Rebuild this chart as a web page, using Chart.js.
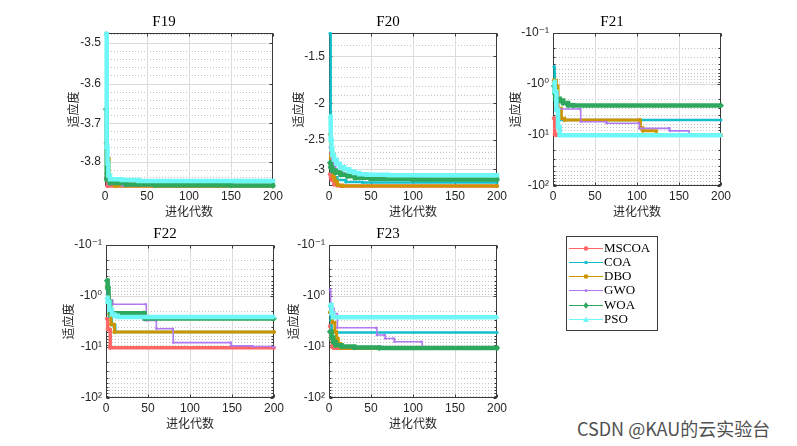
<!DOCTYPE html>
<html><head><meta charset="utf-8">
<script src="https://cdn.jsdelivr.net/npm/chart.js@4.4.0/dist/chart.umd.min.js"></script>
<style>
html,body{margin:0;padding:0;background:#fff;width:797px;height:446px;overflow:hidden;position:relative}
canvas.pc{position:absolute}
#legend{position:absolute;left:566px;top:236px;width:92px;height:95px;border:1px solid #3a3a3a;box-sizing:border-box;background:#fff}
#legend span{position:absolute;left:37px;font:13px "Liberation Serif",serif;color:#000;line-height:14px;white-space:nowrap}
#legcv{position:absolute;left:0;top:0}
#wm{position:absolute;left:577px;top:416px;font:18px "Noto Sans CJK SC",sans-serif;color:#505050;white-space:nowrap;line-height:24px}
</style></head><body>
<div id="legend"><canvas id="legcv" width="90" height="93"></canvas></div>
<div id="wm">CSDN @KAU的云实验台</div>
<script>
// ---------- categories / labels ----------
const seriesNames = ['MSCOA','COA','DBO','GWO','WOA','PSO'];
const panelTitles = ['F19','F20','F21','F22','F23'];
const xLabel = '进化代数';
const yLabel = '适应度';
const xTicks = [0,50,100,150,200];
const yTicksF19 = [-3.5,-3.6,-3.7,-3.8];
const yTicksF20 = [-1.5,-2,-2.5,-3];
const yTicksLog = [-0.1,-1,-10,-100];
const yRangeF19 = [-3.477,-3.863];
const yRangeF20 = [-1.304,-3.3224];
const yRangeLog = [-0.1,-100];

// ---------- series values: [iteration, best fitness] at the points where the curve changes ----------
const f19_MSCOA = [[1,-3.842],[3,-3.8628],[200,-3.8628]];
const f19_COA   = [[1,-3.477],[2,-3.83],[4,-3.855],[12,-3.862],[200,-3.8628]];
const f19_DBO   = [[1,-3.751],[3,-3.79],[5,-3.855],[12,-3.8628],[200,-3.8628]];
const f19_GWO   = [[1,-3.83],[4,-3.858],[20,-3.862],[200,-3.8628]];
const f19_WOA   = [[1,-3.664],[2,-3.845],[6,-3.855],[25,-3.859],[60,-3.861],[150,-3.862],[200,-3.8628]];
const f19_PSO   = [[1,-3.48],[2,-3.76],[3,-3.803],[4,-3.835],[6,-3.845],[20,-3.847],[40,-3.85],[200,-3.851]];

const f20_MSCOA = [[1,-3.09],[2,-3.15],[3,-3.2],[6,-3.29],[10,-3.31],[14,-3.3224],[200,-3.3224]];
const f20_COA   = [[1,-1.304],[2,-2.9],[3,-3.05],[6,-3.15],[10,-3.2],[20,-3.24],[40,-3.25],[200,-3.25]];
const f20_DBO   = [[1,-2.42],[2,-2.8],[3,-3.0],[5,-3.15],[7,-3.22],[10,-3.3],[16,-3.3224],[200,-3.3224]];
const f20_GWO   = [[1,-2.62],[2,-2.72],[3,-2.85],[5,-2.95],[8,-3.02],[12,-3.06],[18,-3.1],[30,-3.14],[60,-3.17],[120,-3.19],[200,-3.2]];
const f20_WOA   = [[1,-2.88],[2,-2.96],[4,-3.02],[8,-3.06],[14,-3.1],[22,-3.13],[31,-3.16],[50,-3.18],[100,-3.195],[200,-3.2032]];
const f20_PSO   = [[1,-2.17],[2,-2.5],[3,-2.65],[4,-2.75],[6,-2.83],[9,-2.9],[13,-2.96],[18,-3.0],[24,-3.04],[30,-3.07],[36,-3.09],[45,-3.1],[70,-3.11],[200,-3.12]];

const f21_MSCOA = [[1,-4.7],[2,-9.8],[4,-10.153],[200,-10.153]];
const f21_COA   = [[1,-0.46],[2,-0.9],[3,-1.7],[5,-3.5],[7,-5.0552],[200,-5.0552]];
const f21_DBO   = [[1,-0.84],[4,-1.1],[6,-3.0],[10,-4.7],[14,-5.0552],[103,-5.0552],[104,-7.2],[107,-8.3],[123,-10.153],[200,-10.153]];
const f21_GWO   = [[1,-0.95],[3,-1.5],[6,-3.1],[32,-3.1],[33,-5.5],[63,-5.5],[64,-5.9],[102,-5.9],[103,-7.4],[138,-7.4],[139,-8.3],[162,-10.153],[200,-10.153]];
const f21_WOA   = [[1,-1.1],[2,-1.5],[3,-1.95],[8,-2.1],[12,-2.35],[18,-2.6],[24,-2.6305],[200,-2.6305]];
const f21_PSO   = [[1,-0.9],[2,-1.4],[4,-3.2],[6,-7.0],[8,-10.153],[200,-10.153]];

const f22_MSCOA = [[1,-2.8],[2,-4.5],[4,-4.6],[5,-10.4029],[200,-10.4029]];
const f22_COA   = [[1,-0.48],[2,-1.0],[4,-2.5],[7,-3.7],[11,-5.0877],[200,-5.0877]];
const f22_DBO   = [[1,-0.65],[3,-1.0],[4,-2.3],[6,-3.6],[10,-5.0877],[200,-5.0877]];
const f22_GWO   = [[1,-0.94],[3,-1.2],[8,-1.45],[47,-1.45],[48,-3.0],[59,-3.0],[60,-4.4],[79,-4.4],[80,-8.2],[148,-8.2],[149,-9.5],[175,-9.8],[200,-10.1]];
const f22_WOA   = [[1,-0.5],[2,-0.7],[3,-1.3],[5,-2.18],[45,-2.18],[46,-2.77],[200,-2.77]];
const f22_PSO   = [[1,-1.08],[2,-1.3],[4,-1.85],[7,-2.3],[10,-2.45],[14,-2.58],[200,-2.58]];

const f23_MSCOA = [[1,-3.9],[2,-6.5],[4,-10.0],[6,-10.5364],[200,-10.5364]];
const f23_COA   = [[1,-1.6],[2,-3.0],[3,-5.1756],[200,-5.1756]];
const f23_DBO   = [[1,-2.1],[4,-3.3],[7,-5.0],[9,-6.8],[11,-8.5],[14,-10.5364],[200,-10.5364]];
const f23_GWO   = [[1,-0.76],[2,-1.75],[6,-2.2],[10,-4.2],[56,-4.2],[57,-5.8],[66,-5.8],[67,-6.8],[77,-6.8],[78,-7.9],[110,-7.9],[111,-10.5364],[200,-10.5364]];
const f23_WOA   = [[1,-5.0],[3,-6.5],[5,-8.0],[8,-9.2],[15,-9.8],[30,-10.2],[60,-10.45],[200,-10.5364]];
const f23_PSO   = [[1,-1.5],[3,-2.2],[5,-2.6],[200,-2.6]];

// ---------- styles ----------
const colors = ['#FF6666','#12BFCB','#CC9500','#B27AF0','#2EA85C','#6EF7F7'];
const lineW  = [3.5, 2.5, 3, 1.6, 4.5, 4.5];
const pStyle = ['circle','circle','circle','circle','rectRot','triangle'];
const pRad   = [2, 1.5, 2, 1.3, 3, 3];

const panels = [
  {title:panelTitles[0], data:[f19_MSCOA,f19_COA,f19_DBO,f19_GWO,f19_WOA,f19_PSO], ticks:yTicksF19, range:yRangeF19, kind:'lin', minorStep:0.02, left:105, top:33, yd:32},
  {title:panelTitles[1], data:[f20_MSCOA,f20_COA,f20_DBO,f20_GWO,f20_WOA,f20_PSO], ticks:yTicksF20, range:yRangeF20, kind:'lin', minorStep:0.1, left:329, top:33, yd:31},
  {title:panelTitles[2], data:[f21_MSCOA,f21_COA,f21_DBO,f21_GWO,f21_WOA,f21_PSO], ticks:yTicksLog, range:yRangeLog, kind:'log', left:553, top:33, yd:38},
  {title:panelTitles[3], data:[f22_MSCOA,f22_COA,f22_DBO,f22_GWO,f22_WOA,f22_PSO], ticks:yTicksLog, range:yRangeLog, kind:'log', left:106, top:245, yd:38},
  {title:panelTitles[4], data:[f23_MSCOA,f23_COA,f23_DBO,f23_GWO,f23_WOA,f23_PSO], ticks:yTicksLog, range:yRangeLog, kind:'log', left:329, top:245, yd:36}
];

const PW = 168, PH = 153, LM = 50, TM = 33, RM = 14, BM = 40;
const sup = {'-':'⁻','0':'⁰','1':'¹','2':'²','3':'³','4':'⁴','5':'⁵','6':'⁶','7':'⁷','8':'⁸','9':'⁹'};

function minorList(p) {
  const mags = p.ticks.map(Math.abs);
  const out = [];
  const lo = Math.min(Math.abs(p.range[0]), Math.abs(p.range[1]));
  const hi = Math.max(Math.abs(p.range[0]), Math.abs(p.range[1]));
  if (p.kind === 'log') {
    for (let d = -1; d <= 1; d++) for (let k = 2; k <= 9; k++) out.push(k * Math.pow(10, d));
  } else {
    const n0 = Math.ceil(lo / p.minorStep - 1e-9), n1 = Math.floor(hi / p.minorStep + 1e-9);
    for (let n = n0; n <= n1; n++) {
      const v = +(n * p.minorStep).toFixed(4);
      if (!mags.some(m => Math.abs(m - v) < 1e-6)) out.push(v);
    }
  }
  return out;
}

const matlabAxes = {
  id: 'matlabAxes',
  beforeDatasetsDraw(chart) {
    const o = chart.options.plugins.matlabAxes;
    const {ctx, chartArea: a, scales: {x, y}} = chart;
    ctx.save();
    ctx.lineWidth = 1;
    ctx.strokeStyle = '#c4c4c4';
    ctx.setLineDash([1, 2]);
    for (const v of o.minor) {
      const py = Math.round(y.getPixelForValue(v)) + 0.5;
      if (py <= a.top + 1 || py >= a.bottom - 1) continue;
      ctx.beginPath(); ctx.moveTo(a.left, py); ctx.lineTo(a.right, py); ctx.stroke();
    }
    ctx.setLineDash([]);
    ctx.strokeStyle = '#dcdcdc';
    for (const v of o.major) {
      const py = Math.round(y.getPixelForValue(v)) + 0.5;
      if (py <= a.top + 1 || py >= a.bottom - 1) continue;
      ctx.beginPath(); ctx.moveTo(a.left, py); ctx.lineTo(a.right, py); ctx.stroke();
    }
    for (const v of xTicks) {
      const px = Math.round(x.getPixelForValue(v)) + 0.5;
      if (px <= a.left + 1 || px >= a.right - 1) continue;
      ctx.beginPath(); ctx.moveTo(px, a.top); ctx.lineTo(px, a.bottom); ctx.stroke();
    }
    ctx.strokeStyle = '#3a3a3a';
    const L = Math.round(a.left) + 0.5, R = Math.round(a.right) - 0.5, T = Math.round(a.top) + 0.5, B = Math.round(a.bottom) - 0.5;
    ctx.strokeRect(L, T, R - L, B - T);
    ctx.beginPath();
    for (const v of xTicks) {
      const px = Math.round(x.getPixelForValue(v)) + 0.5;
      ctx.moveTo(px, B); ctx.lineTo(px, B - 3);
      ctx.moveTo(px, T); ctx.lineTo(px, T + 3);
    }
    for (const v of o.major) {
      const py = Math.round(y.getPixelForValue(v)) + 0.5;
      ctx.moveTo(L, py); ctx.lineTo(L + 3, py);
      ctx.moveTo(R, py); ctx.lineTo(R - 3, py);
    }
    if (o.log) for (const v of o.minor) {
      const py = Math.round(y.getPixelForValue(v)) + 0.5;
      ctx.moveTo(L, py); ctx.lineTo(L + 2, py);
      ctx.moveTo(R, py); ctx.lineTo(R - 2, py);
    }
    ctx.stroke();
    ctx.restore();
  }
};

panels.forEach((p) => {
  const cv = document.createElement('canvas');
  cv.className = 'pc';
  const W = LM + PW + RM, H = TM + PH + BM;
  cv.width = W; cv.height = H;
  cv.style.left = (p.left - LM) + 'px';
  cv.style.top = (p.top - TM) + 'px';
  cv.style.width = W + 'px'; cv.style.height = H + 'px';
  document.body.appendChild(cv);
  const majors = p.ticks.map(Math.abs);
  const yTitleFont = 12, yTitleLH = yTitleFont * 1.2;
  new Chart(cv, {
    type: 'line',
    data: {
      datasets: seriesNames.map((name, i) => ({
        label: name,
        data: p.data[i].map(q => ({x: q[0], y: Math.abs(q[1])})),
        borderColor: colors[i],
        backgroundColor: colors[i],
        borderWidth: lineW[i],
        pointStyle: pStyle[i],
        pointRadius: pRad[i],
        pointBorderWidth: 0,
        pointBackgroundColor: colors[i],
        stepped: true,
        fill: false,
        tension: 0,
        order: 5 - i,
        clip: 3
      }))
    },
    options: {
      responsive: false,
      animation: false,
      devicePixelRatio: 1,
      events: [],
      layout: {padding: {left: 0, right: RM, top: 0, bottom: 0}},
      plugins: {
        legend: {display: false},
        tooltip: {enabled: false},
        title: {
          display: true, text: p.title, color: '#000',
          font: {family: '"Liberation Serif", serif', size: 15, weight: 'normal'},
          padding: {top: 13, bottom: 2}
        },
        matlabAxes: {major: majors, minor: minorList(p), log: p.kind === 'log'}
      },
      scales: {
        x: {
          type: 'linear', min: 0, max: 200,
          grid: {display: false, drawTicks: false},
          border: {display: false},
          afterBuildTicks: s => { s.ticks = xTicks.map(v => ({value: v})); },
          ticks: {font: {family: '"Liberation Sans", Arial, sans-serif', size: 12}, color: '#262626', padding: 3, maxRotation: 0, autoSkip: false},
          title: {display: true, text: xLabel, color: '#262626', font: {family: '"Noto Sans CJK SC", sans-serif', size: 12}, padding: {top: 0, bottom: 7.8}},
          afterFit: s => { s.height = BM; }
        },
        y: {
          type: 'logarithmic', reverse: true,
          min: Math.abs(p.range[0]), max: Math.abs(p.range[1]),
          grid: {display: false, drawTicks: false},
          border: {display: false},
          afterBuildTicks: s => { s.ticks = majors.map(v => ({value: v})); },
          ticks: {
            font: {family: '"Liberation Sans", Arial, "DejaVu Sans", sans-serif', size: 12}, color: '#262626', padding: 4, autoSkip: false,
            callback: (v) => {
              if (p.kind === 'log') {
                const e = Math.round(Math.log10(v));
                return '-10' + String(e).split('').map(c => sup[c]).join('');
              }
              return '-' + (+v.toFixed(2)).toString();
            }
          },
          title: {display: true, text: yLabel, color: '#262626', font: {family: '"Noto Sans CJK SC", sans-serif', size: yTitleFont}, padding: {top: LM - p.yd - yTitleLH / 2, bottom: 0}},
          afterFit: s => { s.width = LM; }
        }
      }
    },
    plugins: [matlabAxes]
  });
});

// ---------- legend ----------
(function () {
  const lg = document.getElementById('legend');
  const c = document.getElementById('legcv').getContext('2d');
  seriesNames.forEach((name, i) => {
    const cy = 10.5 + i * 14.3;
    c.strokeStyle = colors[i]; c.lineWidth = 1.2;
    c.beginPath(); c.moveTo(2, Math.round(cy) + 0.5); c.lineTo(36, Math.round(cy) + 0.5); c.stroke();
    c.fillStyle = colors[i];
    const mx = 19, my = Math.round(cy) + 0.5;
    c.beginPath();
    if (pStyle[i] === 'rectRot') { c.moveTo(mx, my - 3.2); c.lineTo(mx + 2.6, my); c.lineTo(mx, my + 3.2); c.lineTo(mx - 2.6, my); c.closePath(); }
    else if (pStyle[i] === 'triangle') { c.moveTo(mx, my - 3); c.lineTo(mx + 3, my + 2.4); c.lineTo(mx - 3, my + 2.4); c.closePath(); }
    else { c.arc(mx, my, pRad[i] + 0.3, 0, Math.PI * 2); }
    c.fill();
    const s = document.createElement('span');
    s.textContent = name;
    s.style.top = (cy - 7) + 'px';
    lg.appendChild(s);
  });
})();
</script>
</body></html>
